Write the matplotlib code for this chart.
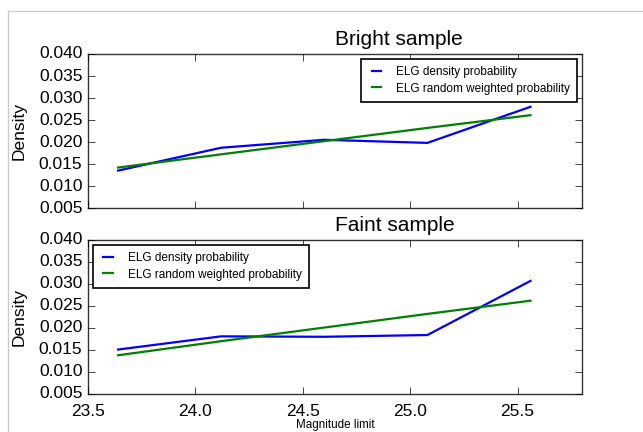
import matplotlib
matplotlib.use("Agg")
import matplotlib.pyplot as plt
from matplotlib.lines import Line2D

plt.style.use("classic")
plt.rcParams['font.family'] = ['Liberation Sans', 'DejaVu Sans']

mag = [23.64, 24.12, 24.60, 25.08, 25.56]
bright_density = [0.0135, 0.0187, 0.0205, 0.0198, 0.0280]
bright_random = [0.0142, 0.0172, 0.0202, 0.0232, 0.0261]
faint_density = [0.0151, 0.0181, 0.0180, 0.0184, 0.0307]
faint_random = [0.0138, 0.0170, 0.0201, 0.0232, 0.0262]
yticks = [0.005, 0.010, 0.015, 0.020, 0.025, 0.030, 0.035, 0.040]
xticks = [23.5, 24.0, 24.5, 25.0, 25.5]

fig = plt.figure(figsize=(6.43, 4.32), dpi=100, facecolor='white')

ax1 = fig.add_axes([0.1369, 0.5185, 0.7683, 0.3565])
ax2 = fig.add_axes([0.1369, 0.088, 0.7683, 0.3565])

panels = [
    (ax1, bright_density, bright_random, "Bright sample", 'upper right'),
    (ax2, faint_density, faint_random, "Faint sample", 'upper left'),
]
for ax, dens, rand, title, loc in panels:
    ax.plot(mag, dens, color='b', lw=1.6, label='ELG density probability')
    ax.plot(mag, rand, color='g', lw=1.6, label='ELG random weighted probability')
    ax.set_xlim(23.5, 25.8)
    ax.set_ylim(0.005, 0.040)
    ax.set_yticks(yticks)
    ax.set_yticklabels(["%.3f" % v for v in yticks])
    ax.set_xticks(xticks)
    ax.tick_params(labelsize=12.5, length=5)
    ax.tick_params(axis='x', pad=7)
    ax.set_ylabel("Density", fontsize=12.5)
    for s in ax.spines.values():
        s.set_color('#333333')
    ax.text(0.5, 1.035, title, transform=ax.transAxes, ha='left', va='bottom',
            fontsize=15)
    leg = ax.legend(loc=loc, fontsize=8.5, handlelength=1.4, handletextpad=1.0,
                    borderpad=0.6, labelspacing=0.4, borderaxespad=0.4)
    leg.get_frame().set_edgecolor('black')
    leg.get_frame().set_linewidth(1.2)

ax1.set_xticklabels([])
ax2.set_xticklabels(["%.1f" % v for v in xticks])
ax1.yaxis.set_label_coords(-0.125, 0.5)
ax2.yaxis.set_label_coords(-0.125, 0.5)

fig.text(0.522, 0.002, "Magnitude limit", ha='center', va='bottom', fontsize=8.4)

# screenshot frame lines
fig.add_artist(Line2D([8/643, 8/643], [0, 1 - 10.5/432], transform=fig.transFigure,
                      color='#cccccc', lw=1))
fig.add_artist(Line2D([8/643, 1], [1 - 10.5/432, 1 - 10.5/432], transform=fig.transFigure,
                      color='#cccccc', lw=1))

fig.savefig("out.png", dpi=100, facecolor='white')
